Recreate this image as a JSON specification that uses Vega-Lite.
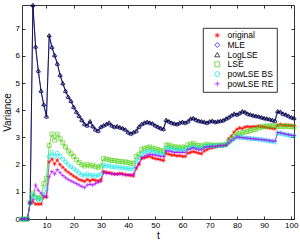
{
"$schema": "https://vega.github.io/schema/vega-lite/v6.json",
"width": 272, "height": 214,
"autosize": {"type": "none"},
"padding": {"left": 22, "top": 5, "right": 6, "bottom": 29},
"background": "white",
"config": {"view": {"stroke": null}, "font": "Liberation Sans",
 "axis": {"domainColor": "#000", "tickColor": "#000", "labelColor": "#000", "titleColor": "#000", "grid": false, "labelFont": "Liberation Sans", "titleFont": "Liberation Sans", "labelFontSize": 8, "titleFontSize": 10, "titleFontWeight": "normal", "tickSize": -3, "domainWidth": 0.8, "tickWidth": 0.8}},
"data": {"values": [
{"t":1,"s":"original","v":0},{"t":2,"s":"original","v":0},{"t":3,"s":"original","v":0},{"t":4,"s":"original","v":0.6},{"t":5,"s":"original","v":0.62},{"t":6,"s":"original","v":0.55},{"t":7,"s":"original","v":0.55},{"t":8,"s":"original","v":0.55},{"t":9,"s":"original","v":0.8},{"t":10,"s":"original","v":0.82},
{"t":11,"s":"original","v":2.1},{"t":12,"s":"original","v":2.2},{"t":13,"s":"original","v":2.02},{"t":14,"s":"original","v":2.17},{"t":15,"s":"original","v":2.0},{"t":16,"s":"original","v":1.9},{"t":17,"s":"original","v":1.8},{"t":18,"s":"original","v":1.72},{"t":19,"s":"original","v":1.65},{"t":20,"s":"original","v":1.58},
{"t":21,"s":"original","v":1.52},{"t":22,"s":"original","v":1.45},{"t":23,"s":"original","v":1.42},{"t":24,"s":"original","v":1.38},{"t":25,"s":"original","v":1.45},{"t":26,"s":"original","v":1.4},{"t":27,"s":"original","v":1.45},{"t":28,"s":"original","v":1.42},{"t":29,"s":"original","v":1.4},{"t":30,"s":"original","v":1.45},
{"t":31,"s":"original","v":1.75},{"t":32,"s":"original","v":1.72},{"t":33,"s":"original","v":1.7},{"t":34,"s":"original","v":1.68},{"t":35,"s":"original","v":1.65},{"t":36,"s":"original","v":1.65},{"t":37,"s":"original","v":1.68},{"t":38,"s":"original","v":1.66},{"t":39,"s":"original","v":1.63},{"t":40,"s":"original","v":1.62},
{"t":41,"s":"original","v":1.6},{"t":42,"s":"original","v":1.58},{"t":43,"s":"original","v":1.85},{"t":44,"s":"original","v":2.0},{"t":45,"s":"original","v":2.22},{"t":46,"s":"original","v":2.25},{"t":47,"s":"original","v":2.28},{"t":48,"s":"original","v":2.3},{"t":49,"s":"original","v":2.25},{"t":50,"s":"original","v":2.22},
{"t":51,"s":"original","v":2.2},{"t":52,"s":"original","v":2.18},{"t":53,"s":"original","v":2.15},{"t":54,"s":"original","v":2.42},{"t":55,"s":"original","v":2.38},{"t":56,"s":"original","v":2.35},{"t":57,"s":"original","v":2.35},{"t":58,"s":"original","v":2.32},{"t":59,"s":"original","v":2.33},{"t":60,"s":"original","v":2.3},
{"t":61,"s":"original","v":2.3},{"t":62,"s":"original","v":2.42},{"t":63,"s":"original","v":2.45},{"t":64,"s":"original","v":2.48},{"t":65,"s":"original","v":2.45},{"t":66,"s":"original","v":2.42},{"t":67,"s":"original","v":2.4},{"t":68,"s":"original","v":2.5},{"t":69,"s":"original","v":2.55},{"t":70,"s":"original","v":2.6},
{"t":71,"s":"original","v":2.62},{"t":72,"s":"original","v":2.65},{"t":73,"s":"original","v":2.68},{"t":74,"s":"original","v":2.7},{"t":75,"s":"original","v":2.7},{"t":76,"s":"original","v":2.72},{"t":77,"s":"original","v":2.95},{"t":78,"s":"original","v":3.05},{"t":79,"s":"original","v":3.2},{"t":80,"s":"original","v":3.3},
{"t":81,"s":"original","v":3.35},{"t":82,"s":"original","v":3.33},{"t":83,"s":"original","v":3.38},{"t":84,"s":"original","v":3.4},{"t":85,"s":"original","v":3.38},{"t":86,"s":"original","v":3.4},{"t":87,"s":"original","v":3.4},{"t":88,"s":"original","v":3.42},{"t":89,"s":"original","v":3.4},{"t":90,"s":"original","v":3.38},
{"t":91,"s":"original","v":3.36},{"t":92,"s":"original","v":3.35},{"t":93,"s":"original","v":3.33},{"t":94,"s":"original","v":3.32},{"t":95,"s":"original","v":3.45},{"t":96,"s":"original","v":3.48},{"t":97,"s":"original","v":3.46},{"t":98,"s":"original","v":3.45},{"t":99,"s":"original","v":3.45},{"t":100,"s":"original","v":3.44},{"t":101,"s":"original","v":3.43},
{"t":1,"s":"MLE","v":0},{"t":2,"s":"MLE","v":0},{"t":3,"s":"MLE","v":0},{"t":4,"s":"MLE","v":0.6},{"t":5,"s":"MLE","v":7.85},{"t":6,"s":"MLE","v":6.32},{"t":7,"s":"MLE","v":5.43},{"t":8,"s":"MLE","v":4.69},{"t":9,"s":"MLE","v":4.19},{"t":10,"s":"MLE","v":3.75},
{"t":11,"s":"MLE","v":6.73},{"t":12,"s":"MLE","v":6.3},{"t":13,"s":"MLE","v":6.0},{"t":14,"s":"MLE","v":5.69},{"t":15,"s":"MLE","v":5.27},{"t":16,"s":"MLE","v":4.97},{"t":17,"s":"MLE","v":4.69},{"t":18,"s":"MLE","v":4.47},{"t":19,"s":"MLE","v":4.32},{"t":20,"s":"MLE","v":4.1},
{"t":21,"s":"MLE","v":3.92},{"t":22,"s":"MLE","v":3.77},{"t":23,"s":"MLE","v":3.62},{"t":24,"s":"MLE","v":3.47},{"t":25,"s":"MLE","v":3.42},{"t":26,"s":"MLE","v":3.57},{"t":27,"s":"MLE","v":3.39},{"t":28,"s":"MLE","v":3.27},{"t":29,"s":"MLE","v":3.22},{"t":30,"s":"MLE","v":3.37},
{"t":31,"s":"MLE","v":3.42},{"t":32,"s":"MLE","v":3.47},{"t":33,"s":"MLE","v":3.52},{"t":34,"s":"MLE","v":3.42},{"t":35,"s":"MLE","v":3.37},{"t":36,"s":"MLE","v":3.39},{"t":37,"s":"MLE","v":3.35},{"t":38,"s":"MLE","v":3.32},{"t":39,"s":"MLE","v":3.27},{"t":40,"s":"MLE","v":3.17},
{"t":41,"s":"MLE","v":3.12},{"t":42,"s":"MLE","v":3.17},{"t":43,"s":"MLE","v":3.22},{"t":44,"s":"MLE","v":3.37},{"t":45,"s":"MLE","v":3.47},{"t":46,"s":"MLE","v":3.52},{"t":47,"s":"MLE","v":3.55},{"t":48,"s":"MLE","v":3.52},{"t":49,"s":"MLE","v":3.49},{"t":50,"s":"MLE","v":3.42},
{"t":51,"s":"MLE","v":3.37},{"t":52,"s":"MLE","v":3.32},{"t":53,"s":"MLE","v":3.29},{"t":54,"s":"MLE","v":3.62},{"t":55,"s":"MLE","v":3.57},{"t":56,"s":"MLE","v":3.52},{"t":57,"s":"MLE","v":3.49},{"t":58,"s":"MLE","v":3.47},{"t":59,"s":"MLE","v":3.52},{"t":60,"s":"MLE","v":3.55},
{"t":61,"s":"MLE","v":3.52},{"t":62,"s":"MLE","v":3.57},{"t":63,"s":"MLE","v":3.67},{"t":64,"s":"MLE","v":3.69},{"t":65,"s":"MLE","v":3.63},{"t":66,"s":"MLE","v":3.59},{"t":67,"s":"MLE","v":3.57},{"t":68,"s":"MLE","v":3.55},{"t":69,"s":"MLE","v":3.52},{"t":70,"s":"MLE","v":3.57},
{"t":71,"s":"MLE","v":3.59},{"t":72,"s":"MLE","v":3.55},{"t":73,"s":"MLE","v":3.57},{"t":74,"s":"MLE","v":3.59},{"t":75,"s":"MLE","v":3.61},{"t":76,"s":"MLE","v":3.67},{"t":77,"s":"MLE","v":3.72},{"t":78,"s":"MLE","v":3.79},{"t":79,"s":"MLE","v":3.85},{"t":80,"s":"MLE","v":3.82},
{"t":81,"s":"MLE","v":3.87},{"t":82,"s":"MLE","v":3.94},{"t":83,"s":"MLE","v":3.91},{"t":84,"s":"MLE","v":3.85},{"t":85,"s":"MLE","v":3.82},{"t":86,"s":"MLE","v":3.79},{"t":87,"s":"MLE","v":3.77},{"t":88,"s":"MLE","v":3.75},{"t":89,"s":"MLE","v":3.72},{"t":90,"s":"MLE","v":3.69},
{"t":91,"s":"MLE","v":3.67},{"t":92,"s":"MLE","v":3.65},{"t":93,"s":"MLE","v":3.62},{"t":94,"s":"MLE","v":3.59},{"t":95,"s":"MLE","v":3.94},{"t":96,"s":"MLE","v":3.92},{"t":97,"s":"MLE","v":3.85},{"t":98,"s":"MLE","v":3.82},{"t":99,"s":"MLE","v":3.77},{"t":100,"s":"MLE","v":3.72},{"t":101,"s":"MLE","v":3.69},
{"t":1,"s":"LogLSE","v":0},{"t":2,"s":"LogLSE","v":0},{"t":3,"s":"LogLSE","v":0},{"t":4,"s":"LogLSE","v":0.6},{"t":5,"s":"LogLSE","v":7.87},{"t":6,"s":"LogLSE","v":6.35},{"t":7,"s":"LogLSE","v":5.46},{"t":8,"s":"LogLSE","v":4.72},{"t":9,"s":"LogLSE","v":4.22},{"t":10,"s":"LogLSE","v":3.78},
{"t":11,"s":"LogLSE","v":6.76},{"t":12,"s":"LogLSE","v":6.33},{"t":13,"s":"LogLSE","v":6.03},{"t":14,"s":"LogLSE","v":5.72},{"t":15,"s":"LogLSE","v":5.3},{"t":16,"s":"LogLSE","v":5.0},{"t":17,"s":"LogLSE","v":4.72},{"t":18,"s":"LogLSE","v":4.5},{"t":19,"s":"LogLSE","v":4.35},{"t":20,"s":"LogLSE","v":4.13},
{"t":21,"s":"LogLSE","v":3.95},{"t":22,"s":"LogLSE","v":3.8},{"t":23,"s":"LogLSE","v":3.65},{"t":24,"s":"LogLSE","v":3.5},{"t":25,"s":"LogLSE","v":3.45},{"t":26,"s":"LogLSE","v":3.6},{"t":27,"s":"LogLSE","v":3.42},{"t":28,"s":"LogLSE","v":3.3},{"t":29,"s":"LogLSE","v":3.25},{"t":30,"s":"LogLSE","v":3.4},
{"t":31,"s":"LogLSE","v":3.45},{"t":32,"s":"LogLSE","v":3.5},{"t":33,"s":"LogLSE","v":3.55},{"t":34,"s":"LogLSE","v":3.45},{"t":35,"s":"LogLSE","v":3.4},{"t":36,"s":"LogLSE","v":3.42},{"t":37,"s":"LogLSE","v":3.38},{"t":38,"s":"LogLSE","v":3.35},{"t":39,"s":"LogLSE","v":3.3},{"t":40,"s":"LogLSE","v":3.2},
{"t":41,"s":"LogLSE","v":3.15},{"t":42,"s":"LogLSE","v":3.2},{"t":43,"s":"LogLSE","v":3.25},{"t":44,"s":"LogLSE","v":3.4},{"t":45,"s":"LogLSE","v":3.5},{"t":46,"s":"LogLSE","v":3.55},{"t":47,"s":"LogLSE","v":3.58},{"t":48,"s":"LogLSE","v":3.55},{"t":49,"s":"LogLSE","v":3.52},{"t":50,"s":"LogLSE","v":3.45},
{"t":51,"s":"LogLSE","v":3.4},{"t":52,"s":"LogLSE","v":3.35},{"t":53,"s":"LogLSE","v":3.32},{"t":54,"s":"LogLSE","v":3.65},{"t":55,"s":"LogLSE","v":3.6},{"t":56,"s":"LogLSE","v":3.55},{"t":57,"s":"LogLSE","v":3.52},{"t":58,"s":"LogLSE","v":3.5},{"t":59,"s":"LogLSE","v":3.55},{"t":60,"s":"LogLSE","v":3.58},
{"t":61,"s":"LogLSE","v":3.55},{"t":62,"s":"LogLSE","v":3.6},{"t":63,"s":"LogLSE","v":3.7},{"t":64,"s":"LogLSE","v":3.72},{"t":65,"s":"LogLSE","v":3.66},{"t":66,"s":"LogLSE","v":3.62},{"t":67,"s":"LogLSE","v":3.6},{"t":68,"s":"LogLSE","v":3.58},{"t":69,"s":"LogLSE","v":3.55},{"t":70,"s":"LogLSE","v":3.6},
{"t":71,"s":"LogLSE","v":3.62},{"t":72,"s":"LogLSE","v":3.58},{"t":73,"s":"LogLSE","v":3.6},{"t":74,"s":"LogLSE","v":3.62},{"t":75,"s":"LogLSE","v":3.64},{"t":76,"s":"LogLSE","v":3.7},{"t":77,"s":"LogLSE","v":3.75},{"t":78,"s":"LogLSE","v":3.82},{"t":79,"s":"LogLSE","v":3.88},{"t":80,"s":"LogLSE","v":3.85},
{"t":81,"s":"LogLSE","v":3.9},{"t":82,"s":"LogLSE","v":3.97},{"t":83,"s":"LogLSE","v":3.94},{"t":84,"s":"LogLSE","v":3.88},{"t":85,"s":"LogLSE","v":3.85},{"t":86,"s":"LogLSE","v":3.82},{"t":87,"s":"LogLSE","v":3.8},{"t":88,"s":"LogLSE","v":3.78},{"t":89,"s":"LogLSE","v":3.75},{"t":90,"s":"LogLSE","v":3.72},
{"t":91,"s":"LogLSE","v":3.7},{"t":92,"s":"LogLSE","v":3.68},{"t":93,"s":"LogLSE","v":3.65},{"t":94,"s":"LogLSE","v":3.62},{"t":95,"s":"LogLSE","v":3.97},{"t":96,"s":"LogLSE","v":3.95},{"t":97,"s":"LogLSE","v":3.88},{"t":98,"s":"LogLSE","v":3.85},{"t":99,"s":"LogLSE","v":3.8},{"t":100,"s":"LogLSE","v":3.75},{"t":101,"s":"LogLSE","v":3.72},
{"t":1,"s":"LSE","v":0},{"t":2,"s":"LSE","v":0},{"t":3,"s":"LSE","v":0},{"t":4,"s":"LSE","v":0.6},{"t":5,"s":"LSE","v":0.95},{"t":6,"s":"LSE","v":0.8},{"t":7,"s":"LSE","v":0.75},{"t":8,"s":"LSE","v":0.8},{"t":9,"s":"LSE","v":1.3},{"t":10,"s":"LSE","v":1.5},
{"t":11,"s":"LSE","v":2.7},{"t":12,"s":"LSE","v":3.12},{"t":13,"s":"LSE","v":2.9},{"t":14,"s":"LSE","v":3.12},{"t":15,"s":"LSE","v":2.95},{"t":16,"s":"LSE","v":2.8},{"t":17,"s":"LSE","v":2.65},{"t":18,"s":"LSE","v":2.5},{"t":19,"s":"LSE","v":2.4},{"t":20,"s":"LSE","v":2.3},
{"t":21,"s":"LSE","v":2.18},{"t":22,"s":"LSE","v":2.08},{"t":23,"s":"LSE","v":2.0},{"t":24,"s":"LSE","v":1.95},{"t":25,"s":"LSE","v":2.0},{"t":26,"s":"LSE","v":1.95},{"t":27,"s":"LSE","v":1.98},{"t":28,"s":"LSE","v":1.92},{"t":29,"s":"LSE","v":1.9},{"t":30,"s":"LSE","v":1.95},
{"t":31,"s":"LSE","v":2.22},{"t":32,"s":"LSE","v":2.2},{"t":33,"s":"LSE","v":2.18},{"t":34,"s":"LSE","v":2.15},{"t":35,"s":"LSE","v":2.15},{"t":36,"s":"LSE","v":2.12},{"t":37,"s":"LSE","v":2.12},{"t":38,"s":"LSE","v":2.1},{"t":39,"s":"LSE","v":2.1},{"t":40,"s":"LSE","v":2.08},
{"t":41,"s":"LSE","v":2.05},{"t":42,"s":"LSE","v":2.05},{"t":43,"s":"LSE","v":2.3},{"t":44,"s":"LSE","v":2.38},{"t":45,"s":"LSE","v":2.55},{"t":46,"s":"LSE","v":2.6},{"t":47,"s":"LSE","v":2.62},{"t":48,"s":"LSE","v":2.65},{"t":49,"s":"LSE","v":2.6},{"t":50,"s":"LSE","v":2.58},
{"t":51,"s":"LSE","v":2.55},{"t":52,"s":"LSE","v":2.52},{"t":53,"s":"LSE","v":2.5},{"t":54,"s":"LSE","v":2.72},{"t":55,"s":"LSE","v":2.72},{"t":56,"s":"LSE","v":2.68},{"t":57,"s":"LSE","v":2.65},{"t":58,"s":"LSE","v":2.65},{"t":59,"s":"LSE","v":2.62},{"t":60,"s":"LSE","v":2.65},
{"t":61,"s":"LSE","v":2.62},{"t":62,"s":"LSE","v":2.72},{"t":63,"s":"LSE","v":2.75},{"t":64,"s":"LSE","v":2.78},{"t":65,"s":"LSE","v":2.72},{"t":66,"s":"LSE","v":2.7},{"t":67,"s":"LSE","v":2.68},{"t":68,"s":"LSE","v":2.72},{"t":69,"s":"LSE","v":2.75},{"t":70,"s":"LSE","v":2.72},
{"t":71,"s":"LSE","v":2.72},{"t":72,"s":"LSE","v":2.7},{"t":73,"s":"LSE","v":2.72},{"t":74,"s":"LSE","v":2.72},{"t":75,"s":"LSE","v":2.72},{"t":76,"s":"LSE","v":2.75},{"t":77,"s":"LSE","v":2.85},{"t":78,"s":"LSE","v":2.95},{"t":79,"s":"LSE","v":3.05},{"t":80,"s":"LSE","v":3.15},
{"t":81,"s":"LSE","v":3.12},{"t":82,"s":"LSE","v":3.18},{"t":83,"s":"LSE","v":3.2},{"t":84,"s":"LSE","v":3.22},{"t":85,"s":"LSE","v":3.25},{"t":86,"s":"LSE","v":3.28},{"t":87,"s":"LSE","v":3.3},{"t":88,"s":"LSE","v":3.35},{"t":89,"s":"LSE","v":3.38},{"t":90,"s":"LSE","v":3.4},
{"t":91,"s":"LSE","v":3.42},{"t":92,"s":"LSE","v":3.42},{"t":93,"s":"LSE","v":3.43},{"t":94,"s":"LSE","v":3.42},{"t":95,"s":"LSE","v":3.4},{"t":96,"s":"LSE","v":3.42},{"t":97,"s":"LSE","v":3.4},{"t":98,"s":"LSE","v":3.42},{"t":99,"s":"LSE","v":3.4},{"t":100,"s":"LSE","v":3.4},{"t":101,"s":"LSE","v":3.38},
{"t":1,"s":"powLSE BS","v":0},{"t":2,"s":"powLSE BS","v":0},{"t":3,"s":"powLSE BS","v":0},{"t":4,"s":"powLSE BS","v":0.6},{"t":5,"s":"powLSE BS","v":0.9},{"t":6,"s":"powLSE BS","v":0.8},{"t":7,"s":"powLSE BS","v":0.7},{"t":8,"s":"powLSE BS","v":0.72},{"t":9,"s":"powLSE BS","v":0.9},{"t":10,"s":"powLSE BS","v":1.1},
{"t":11,"s":"powLSE BS","v":2.3},{"t":12,"s":"powLSE BS","v":2.45},{"t":13,"s":"powLSE BS","v":2.3},{"t":14,"s":"powLSE BS","v":2.42},{"t":15,"s":"powLSE BS","v":2.3},{"t":16,"s":"powLSE BS","v":2.2},{"t":17,"s":"powLSE BS","v":2.1},{"t":18,"s":"powLSE BS","v":2.0},{"t":19,"s":"powLSE BS","v":1.92},{"t":20,"s":"powLSE BS","v":1.85},
{"t":21,"s":"powLSE BS","v":1.78},{"t":22,"s":"powLSE BS","v":1.7},{"t":23,"s":"powLSE BS","v":1.62},{"t":24,"s":"powLSE BS","v":1.6},{"t":25,"s":"powLSE BS","v":1.65},{"t":26,"s":"powLSE BS","v":1.6},{"t":27,"s":"powLSE BS","v":1.62},{"t":28,"s":"powLSE BS","v":1.58},{"t":29,"s":"powLSE BS","v":1.6},{"t":30,"s":"powLSE BS","v":1.65},
{"t":31,"s":"powLSE BS","v":1.98},{"t":32,"s":"powLSE BS","v":1.95},{"t":33,"s":"powLSE BS","v":1.95},{"t":34,"s":"powLSE BS","v":1.92},{"t":35,"s":"powLSE BS","v":1.92},{"t":36,"s":"powLSE BS","v":1.9},{"t":37,"s":"powLSE BS","v":1.9},{"t":38,"s":"powLSE BS","v":1.88},{"t":39,"s":"powLSE BS","v":1.88},{"t":40,"s":"powLSE BS","v":1.85},
{"t":41,"s":"powLSE BS","v":1.85},{"t":42,"s":"powLSE BS","v":1.85},{"t":43,"s":"powLSE BS","v":2.1},{"t":44,"s":"powLSE BS","v":2.25},{"t":45,"s":"powLSE BS","v":2.38},{"t":46,"s":"powLSE BS","v":2.45},{"t":47,"s":"powLSE BS","v":2.48},{"t":48,"s":"powLSE BS","v":2.5},{"t":49,"s":"powLSE BS","v":2.48},{"t":50,"s":"powLSE BS","v":2.45},
{"t":51,"s":"powLSE BS","v":2.42},{"t":52,"s":"powLSE BS","v":2.4},{"t":53,"s":"powLSE BS","v":2.38},{"t":54,"s":"powLSE BS","v":2.6},{"t":55,"s":"powLSE BS","v":2.6},{"t":56,"s":"powLSE BS","v":2.58},{"t":57,"s":"powLSE BS","v":2.55},{"t":58,"s":"powLSE BS","v":2.55},{"t":59,"s":"powLSE BS","v":2.52},{"t":60,"s":"powLSE BS","v":2.55},
{"t":61,"s":"powLSE BS","v":2.52},{"t":62,"s":"powLSE BS","v":2.6},{"t":63,"s":"powLSE BS","v":2.62},{"t":64,"s":"powLSE BS","v":2.65},{"t":65,"s":"powLSE BS","v":2.62},{"t":66,"s":"powLSE BS","v":2.6},{"t":67,"s":"powLSE BS","v":2.6},{"t":68,"s":"powLSE BS","v":2.65},{"t":69,"s":"powLSE BS","v":2.68},{"t":70,"s":"powLSE BS","v":2.68},
{"t":71,"s":"powLSE BS","v":2.7},{"t":72,"s":"powLSE BS","v":2.68},{"t":73,"s":"powLSE BS","v":2.7},{"t":74,"s":"powLSE BS","v":2.7},{"t":75,"s":"powLSE BS","v":2.7},{"t":76,"s":"powLSE BS","v":2.72},{"t":77,"s":"powLSE BS","v":2.8},{"t":78,"s":"powLSE BS","v":2.88},{"t":79,"s":"powLSE BS","v":2.95},{"t":80,"s":"powLSE BS","v":3.02},
{"t":81,"s":"powLSE BS","v":3.0},{"t":82,"s":"powLSE BS","v":3.0},{"t":83,"s":"powLSE BS","v":2.98},{"t":84,"s":"powLSE BS","v":2.97},{"t":85,"s":"powLSE BS","v":2.96},{"t":86,"s":"powLSE BS","v":2.95},{"t":87,"s":"powLSE BS","v":2.94},{"t":88,"s":"powLSE BS","v":2.93},{"t":89,"s":"powLSE BS","v":2.92},{"t":90,"s":"powLSE BS","v":2.9},
{"t":91,"s":"powLSE BS","v":2.88},{"t":92,"s":"powLSE BS","v":2.86},{"t":93,"s":"powLSE BS","v":2.85},{"t":94,"s":"powLSE BS","v":2.83},{"t":95,"s":"powLSE BS","v":3.15},{"t":96,"s":"powLSE BS","v":3.15},{"t":97,"s":"powLSE BS","v":3.12},{"t":98,"s":"powLSE BS","v":3.1},{"t":99,"s":"powLSE BS","v":3.08},{"t":100,"s":"powLSE BS","v":3.06},{"t":101,"s":"powLSE BS","v":3.05},
{"t":1,"s":"powLSE RE","v":0},{"t":2,"s":"powLSE RE","v":0},{"t":3,"s":"powLSE RE","v":0},{"t":4,"s":"powLSE RE","v":0.6},{"t":5,"s":"powLSE RE","v":0.7},{"t":6,"s":"powLSE RE","v":1.25},{"t":7,"s":"powLSE RE","v":1.05},{"t":8,"s":"powLSE RE","v":0.95},{"t":9,"s":"powLSE RE","v":0.85},{"t":10,"s":"powLSE RE","v":0.8},
{"t":11,"s":"powLSE RE","v":1.55},{"t":12,"s":"powLSE RE","v":1.75},{"t":13,"s":"powLSE RE","v":1.65},{"t":14,"s":"powLSE RE","v":1.82},{"t":15,"s":"powLSE RE","v":1.7},{"t":16,"s":"powLSE RE","v":1.6},{"t":17,"s":"powLSE RE","v":1.52},{"t":18,"s":"powLSE RE","v":1.45},{"t":19,"s":"powLSE RE","v":1.4},{"t":20,"s":"powLSE RE","v":1.35},
{"t":21,"s":"powLSE RE","v":1.3},{"t":22,"s":"powLSE RE","v":1.25},{"t":23,"s":"powLSE RE","v":1.2},{"t":24,"s":"powLSE RE","v":1.15},{"t":25,"s":"powLSE RE","v":1.25},{"t":26,"s":"powLSE RE","v":1.28},{"t":27,"s":"powLSE RE","v":1.25},{"t":28,"s":"powLSE RE","v":1.3},{"t":29,"s":"powLSE RE","v":1.35},{"t":30,"s":"powLSE RE","v":1.38},
{"t":31,"s":"powLSE RE","v":1.7},{"t":32,"s":"powLSE RE","v":1.68},{"t":33,"s":"powLSE RE","v":1.68},{"t":34,"s":"powLSE RE","v":1.66},{"t":35,"s":"powLSE RE","v":1.66},{"t":36,"s":"powLSE RE","v":1.65},{"t":37,"s":"powLSE RE","v":1.65},{"t":38,"s":"powLSE RE","v":1.64},{"t":39,"s":"powLSE RE","v":1.63},{"t":40,"s":"powLSE RE","v":1.62},
{"t":41,"s":"powLSE RE","v":1.62},{"t":42,"s":"powLSE RE","v":1.65},{"t":43,"s":"powLSE RE","v":1.9},{"t":44,"s":"powLSE RE","v":2.05},{"t":45,"s":"powLSE RE","v":2.25},{"t":46,"s":"powLSE RE","v":2.3},{"t":47,"s":"powLSE RE","v":2.35},{"t":48,"s":"powLSE RE","v":2.38},{"t":49,"s":"powLSE RE","v":2.36},{"t":50,"s":"powLSE RE","v":2.35},
{"t":51,"s":"powLSE RE","v":2.33},{"t":52,"s":"powLSE RE","v":2.3},{"t":53,"s":"powLSE RE","v":2.3},{"t":54,"s":"powLSE RE","v":2.5},{"t":55,"s":"powLSE RE","v":2.5},{"t":56,"s":"powLSE RE","v":2.48},{"t":57,"s":"powLSE RE","v":2.45},{"t":58,"s":"powLSE RE","v":2.45},{"t":59,"s":"powLSE RE","v":2.45},{"t":60,"s":"powLSE RE","v":2.45},
{"t":61,"s":"powLSE RE","v":2.45},{"t":62,"s":"powLSE RE","v":2.55},{"t":63,"s":"powLSE RE","v":2.58},{"t":64,"s":"powLSE RE","v":2.62},{"t":65,"s":"powLSE RE","v":2.58},{"t":66,"s":"powLSE RE","v":2.55},{"t":67,"s":"powLSE RE","v":2.55},{"t":68,"s":"powLSE RE","v":2.62},{"t":69,"s":"powLSE RE","v":2.65},{"t":70,"s":"powLSE RE","v":2.66},
{"t":71,"s":"powLSE RE","v":2.68},{"t":72,"s":"powLSE RE","v":2.66},{"t":73,"s":"powLSE RE","v":2.68},{"t":74,"s":"powLSE RE","v":2.7},{"t":75,"s":"powLSE RE","v":2.7},{"t":76,"s":"powLSE RE","v":2.72},{"t":77,"s":"powLSE RE","v":2.8},{"t":78,"s":"powLSE RE","v":2.88},{"t":79,"s":"powLSE RE","v":2.95},{"t":80,"s":"powLSE RE","v":3.02},
{"t":81,"s":"powLSE RE","v":3.0},{"t":82,"s":"powLSE RE","v":2.99},{"t":83,"s":"powLSE RE","v":2.98},{"t":84,"s":"powLSE RE","v":2.97},{"t":85,"s":"powLSE RE","v":2.96},{"t":86,"s":"powLSE RE","v":2.95},{"t":87,"s":"powLSE RE","v":2.94},{"t":88,"s":"powLSE RE","v":2.93},{"t":89,"s":"powLSE RE","v":2.92},{"t":90,"s":"powLSE RE","v":2.91},
{"t":91,"s":"powLSE RE","v":2.9},{"t":92,"s":"powLSE RE","v":2.88},{"t":93,"s":"powLSE RE","v":2.87},{"t":94,"s":"powLSE RE","v":2.86},{"t":95,"s":"powLSE RE","v":3.18},{"t":96,"s":"powLSE RE","v":3.17},{"t":97,"s":"powLSE RE","v":3.14},{"t":98,"s":"powLSE RE","v":3.12},{"t":99,"s":"powLSE RE","v":3.1},{"t":100,"s":"powLSE RE","v":3.08},{"t":101,"s":"powLSE RE","v":3.07}
]},
"layer": [
 {"mark": {"type": "line", "strokeWidth": 0.7},
  "encoding": {
   "x": {"field": "t", "type": "quantitative", "scale": {"domain": [1, 101], "nice": false, "zero": false},
         "axis": {"orient": "bottom", "values": [10,20,30,40,50,60,70,80,90,100], "title": "t", "labelPadding": 5, "titlePadding": 1}},
   "y": {"field": "v", "type": "quantitative", "scale": {"domain": [0, 7.87], "nice": false},
         "axis": {"orient": "left", "values": [0,1,2,3,4,5,6,7], "title": "Variance", "labelPadding": 5.5, "titlePadding": 3}},
   "color": {"field": "s", "type": "nominal", "sort": null,
     "scale": {"domain": ["original","MLE","LogLSE","LSE","powLSE BS","powLSE RE"], "range": ["#ff0000","#0000ff","#000000","#44cc00","#00e5e5","#b000ff"]},
     "legend": {"title": null, "orient": "none", "legendX": 181, "legendY": 23, "padding": 3, "strokeColor": "#000", "fillColor": "#fff",
       "symbolSize": 25, "symbolOffset": 7, "labelOffset": 6, "symbolStrokeWidth": 0.7, "symbolFillColor": "transparent",
       "labelFont": "Liberation Sans", "labelFontSize": 8.5, "labelColor": "#000", "rowPadding": 0.7,
       "encode": {"legend": {"update": {"strokeWidth": {"value": 0.8}}},
         "symbols": {"update": {"fill": {"value": "transparent"}, "shape": {"value": {"expr": "datum.value === 'original' ? 'M-3.8,0L3.8,0M0,-1.1L0,1.1M-0.8,-0.8L0.8,0.8M-0.8,0.8L0.8,-0.8' : datum.value === 'MLE' ? 'M-3.8,0L3.8,0M0,-1.2L1.1,0L0,1.2L-1.1,0Z' : datum.value === 'LogLSE' ? 'M-3.8,0L3.8,0M0,-1.1L1,0.8L-1,0.8Z' : datum.value === 'LSE' ? 'M-3.8,0L3.8,0M-0.9,-0.9L0.9,-0.9L0.9,0.9L-0.9,0.9Z' : datum.value === 'powLSE BS' ? 'M-3.8,0L3.8,0M1,0A1,1,0,1,1,-1,0A1,1,0,1,1,1,0Z' : 'M-3.8,0L3.8,0M0,-1.1L0,1.1'"}}}}}}}
  }},
 {"mark": {"type": "point", "filled": false, "size": 16, "strokeWidth": 0.6, "opacity": 1},
  "encoding": {
   "x": {"field": "t", "type": "quantitative", "scale": {"domain": [1, 101], "nice": false, "zero": false},
         "axis": {"orient": "top", "values": [10,20,30,40,50,60,70,80,90,100], "labels": false, "title": null}},
   "y": {"field": "v", "type": "quantitative", "scale": {"domain": [0, 7.87], "nice": false},
         "axis": {"orient": "right", "values": [0,1,2,3,4,5,6,7], "labels": false, "title": null}},
   "color": {"field": "s", "type": "nominal", "sort": null,
     "scale": {"domain": ["original","MLE","LogLSE","LSE","powLSE BS","powLSE RE"], "range": ["#ff0000","#0000ff","#000000","#44cc00","#00e5e5","#b000ff"]}, "legend": null},
   "shape": {"field": "s", "type": "nominal", "sort": null,
     "scale": {"domain": ["original","MLE","LogLSE","LSE","powLSE BS","powLSE RE"], "range": ["M-1,0L1,0M0,-1L0,1M-0.7,-0.7L0.7,0.7M-0.7,0.7L0.7,-0.7","diamond","triangle-up","square","circle","M-1,0L1,0M0,-1L0,1"]}, "legend": null}
  }}
]
}
